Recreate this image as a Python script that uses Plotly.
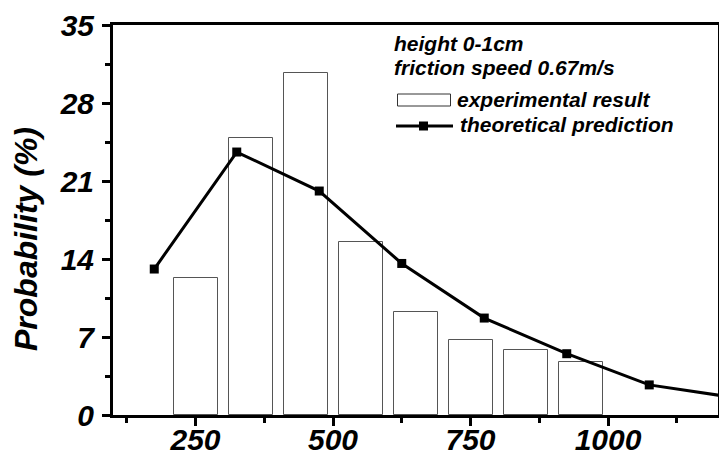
import plotly.graph_objects as go

# Data
bar_x = [250, 350, 450, 550, 650, 750, 850, 950]
bar_y = [12.3, 24.9, 30.7, 15.5, 9.2, 6.7, 5.8, 4.8]

line_x = [175, 325, 475, 625, 775, 925, 1075, 1225]
line_y = [13.1, 23.6, 20.1, 13.6, 8.7, 5.5, 2.7, 1.6]

x_ticks = [250, 500, 750, 1000]
y_ticks = [0, 7, 14, 21, 28, 35]

y_title = "Probability (%)"
legend_lines = ["height 0-1cm", "friction speed 0.67m/s"]
legend_bar = "experimental result"
legend_line = "theoretical prediction"

FONT = "Liberation Sans"
W, H = 719, 457
L, R, T, B = 113, 1, 25, 42
PW, PH = W - L - R, H - T - B


def px(xp):
    return (xp - L) / PW


def py(yp):
    return (H - B - yp) / PH


fig = go.Figure()
fig.add_trace(go.Bar(
    x=bar_x, y=bar_y, width=80,
    marker=dict(color="white", line=dict(color="#555555", width=1)),
    showlegend=False,
))
fig.add_trace(go.Scatter(
    x=line_x, y=line_y, mode="lines+markers",
    line=dict(color="black", width=3),
    marker=dict(symbol="square", size=9, color="black"),
    showlegend=False,
))

tickfont = dict(family=FONT, size=30, color="black", weight="bold", style="italic")

fig.update_xaxes(
    range=[100, 1200], tickvals=x_ticks, ticktext=[str(v) for v in x_ticks],
    ticks="outside", ticklen=8, tickwidth=3, tickcolor="black",
    minor=dict(ticks="outside", dtick=125, tick0=0, ticklen=5, tickwidth=3, tickcolor="black"),
    showline=True, linewidth=3, linecolor="black", mirror=True,
    showgrid=False, zeroline=False, tickfont=tickfont, automargin=False,
    ticklabelstandoff=-12,
)
fig.update_yaxes(
    range=[0, 35], tickvals=y_ticks, ticktext=[str(v) for v in y_ticks],
    ticks="outside", ticklen=8, tickwidth=3, tickcolor="black",
    minor=dict(ticks="outside", dtick=3.5, tick0=0, ticklen=5, tickwidth=3, tickcolor="black"),
    showline=True, linewidth=3, linecolor="black", mirror=True,
    showgrid=False, zeroline=False, tickfont=tickfont, automargin=False,
    ticklabelstandoff=2,
)

lfont = dict(family=FONT, size=21, color="black", weight="bold", style="italic")
annotations = [
    dict(text=y_title, x=px(26), y=py(239), xref="paper", yref="paper", textangle=-90,
         xanchor="center", yanchor="middle", showarrow=False,
         font=dict(family=FONT, size=32, color="black", weight="bold", style="italic")),
    dict(text=legend_lines[0], x=px(392), y=py(43.5), xref="paper", yref="paper",
         xanchor="left", yanchor="middle", showarrow=False, font=lfont),
    dict(text=legend_lines[1], x=px(392), y=py(67.5), xref="paper", yref="paper",
         xanchor="left", yanchor="middle", showarrow=False, font=lfont),
    dict(text=legend_bar, x=px(455), y=py(99), xref="paper", yref="paper",
         xanchor="left", yanchor="middle", showarrow=False, font=lfont),
    dict(text=legend_line, x=px(458), y=py(125), xref="paper", yref="paper",
         xanchor="left", yanchor="middle", showarrow=False, font=lfont),
]
shapes = [
    dict(type="rect", xref="paper", yref="paper", x0=px(397.5), x1=px(450.5),
         y0=py(106), y1=py(94), line=dict(color="#333333", width=1), fillcolor="white"),
    dict(type="line", xref="paper", yref="paper", x0=px(396), x1=px(453),
         y0=py(126), y1=py(126), line=dict(color="black", width=3)),
    dict(type="rect", xref="paper", yref="paper", x0=px(419), x1=px(428),
         y0=py(130.5), y1=py(121.5), line=dict(width=0), fillcolor="black"),
]

fig.update_layout(
    width=W, height=H, margin=dict(l=L, r=R, t=T, b=B, pad=0, autoexpand=False),
    paper_bgcolor="white", plot_bgcolor="white",
    annotations=annotations, shapes=shapes, bargap=0,
    font=dict(family=FONT, color="black"),
)

fig.write_html("out.html")
